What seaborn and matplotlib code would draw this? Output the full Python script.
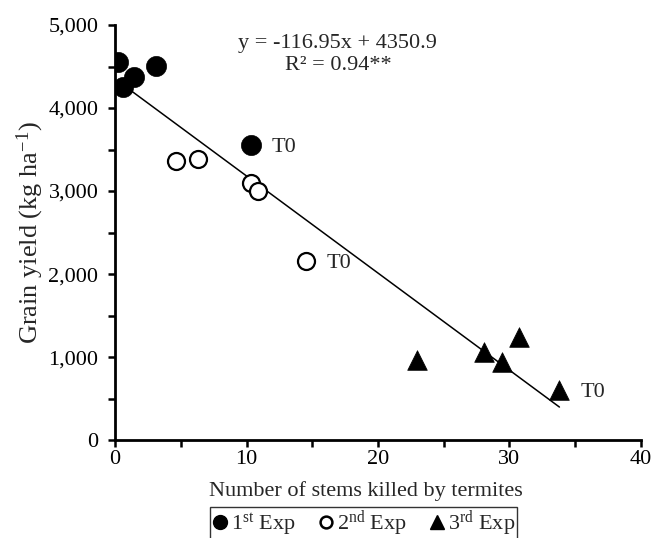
import matplotlib
matplotlib.use("Agg")
import matplotlib.pyplot as plt
import seaborn as sns
import numpy as np
import pandas as pd
from matplotlib.ticker import MultipleLocator, StrMethodFormatter
from matplotlib.lines import Line2D

# ---- data ----
exp1_x = [0.2, 0.6, 1.4, 3.1, 10.3]
exp1_y = [4554, 4253, 4373, 4506, 3554]
exp2_x = [4.6, 6.3, 10.3, 10.9, 14.5]
exp2_y = [3365, 3382, 3093, 3004, 2157]
exp3_x = [23.0, 28.1, 29.4, 30.7, 33.8]
exp3_y = [964, 1064, 943, 1237, 602]
slope = -116.95
intercept = 4350.9
fit_range = [0.6, 33.8]
equation_text = "y = -116.95x + 4350.9"
r2_text = "R² = 0.94**"
t0_points = [(10.3, 3554), (14.5, 2157), (33.8, 602)]
xlabel = "Number of stems killed by termites"
ylabel = "Grain yield (kg ha$^{-1}$)"
legend_labels = ["1$^{\\rm st}$ Exp", "2$^{\\rm nd}$ Exp", "3$^{\\rm rd}$ Exp"]

sns.set_style("ticks")
plt.rcParams['font.family'] = ['Liberation Serif', 'DejaVu Serif']
plt.rcParams['mathtext.fontset'] = 'custom'
plt.rcParams['mathtext.rm'] = 'Liberation Serif'
plt.rcParams['mathtext.it'] = 'Liberation Serif:italic'

fig = plt.figure(figsize=(6.54, 5.38), dpi=100)
ax = fig.add_axes([0.176, 0.182, 0.804, 0.7715])

df1 = pd.DataFrame({"x": exp1_x, "y": exp1_y})
df2 = pd.DataFrame({"x": exp2_x, "y": exp2_y})
df3 = pd.DataFrame({"x": exp3_x, "y": exp3_y})

sns.scatterplot(data=df1, x="x", y="y", ax=ax, marker="o", s=210,
                color="black", edgecolor="black", linewidth=0.5, zorder=3)
sns.scatterplot(data=df2, x="x", y="y", ax=ax, marker="o", s=150,
                facecolor="white", edgecolor="black", linewidth=1.6, zorder=3)
sns.scatterplot(data=df3, x="x", y="y", ax=ax, marker="^", s=200,
                color="black", edgecolor="black", linewidth=0.5, zorder=3)

fx = np.array(fit_range)
sns.lineplot(x=fx, y=slope * fx + intercept, ax=ax, color="black",
             linewidth=1.1, zorder=2)

for (px, py) in t0_points:
    ax.annotate("T0", (px, py), xytext=(15, -2), textcoords="offset points",
                fontsize=16, va="center", ha="left")

ax.text(16.95, 4783, equation_text, fontsize=16, ha="center", va="center")
ax.text(16.95, 4518, r2_text, fontsize=16, ha="center", va="center")

ax.set_xlim(0, 40)
ax.set_ylim(0, 5000)
ax.xaxis.set_major_locator(MultipleLocator(10))
ax.xaxis.set_minor_locator(MultipleLocator(5))
ax.yaxis.set_major_locator(MultipleLocator(1000))
ax.yaxis.set_minor_locator(MultipleLocator(500))
ax.yaxis.set_major_formatter(StrMethodFormatter("{x:,.0f}"))
ax.tick_params(which="both", direction="out", length=5, width=1.8,
               labelsize=16, colors="black")
ax.tick_params(axis="x", pad=2)
ax.tick_params(axis="y", pad=7)
for sp in ["top", "right"]:
    ax.spines[sp].set_visible(False)
for sp in ["left", "bottom"]:
    ax.spines[sp].set_linewidth(2.0)
    ax.spines[sp].set_color("black")
ax.set_xlabel(xlabel, fontsize=16)
ax.xaxis.set_label_coords(0.476, -0.098)
ax.set_ylabel(ylabel, fontsize=19, labelpad=2)

handles = [
    Line2D([], [], marker="o", linestyle="none", markersize=10,
           markerfacecolor="black", markeredgecolor="black"),
    Line2D([], [], marker="o", linestyle="none", markersize=8.5,
           markerfacecolor="white", markeredgecolor="black", markeredgewidth=1.8),
    Line2D([], [], marker="^", linestyle="none", markersize=10,
           markerfacecolor="black", markeredgecolor="black"),
]
leg = fig.legend(handles, legend_labels, loc="upper center",
                 bbox_to_anchor=(0.556, 0.058), ncol=3, fontsize=16,
                 frameon=True, fancybox=False, edgecolor="black",
                 handlelength=0.7, handletextpad=0.15, columnspacing=1.0,
                 borderpad=0.1, borderaxespad=0)
leg.get_frame().set_linewidth(1.0)

fig.savefig("out.png", dpi=100)
